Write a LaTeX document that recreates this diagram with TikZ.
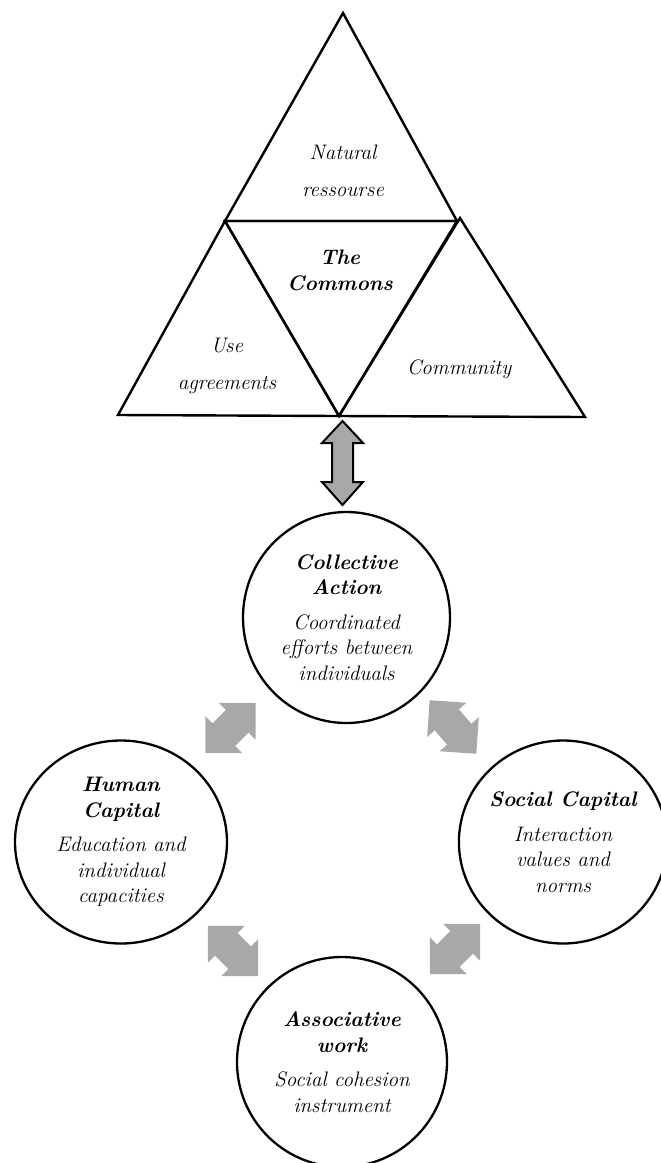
\documentclass[tikz,border=0pt]{standalone}
\usetikzlibrary{shapes.geometric,positioning}
\definecolor{arrowgray}{RGB}{168,168,168}

\begin{document}
\begin{tikzpicture}[x=1pt,y=-1pt,
  tri/.style={draw, line width=2.4pt, line join=miter},
  tritext/.style={align=center, font=\itshape\fontsize{21}{37}\selectfont},
  bubble/.style={ellipse, draw, line width=2.3pt, align=center, inner sep=0pt,
                 font=\itshape\fontsize{21}{25.5}\selectfont},
  garrow/.style={fill=arrowgray, draw=none}]
\useasboundingbox (0,0) rectangle (661,1163);

% triangles
\coordinate (apex) at (343,13);
\coordinate (midl) at (225,221);
\coordinate (midr) at (457,221);
\coordinate (ra) at (460,218);
\coordinate (bl) at (118,415);
\coordinate (bm) at (339,416);
\coordinate (br) at (585,417);

\draw [tri] (apex) -- (midr) -- (midl) -- cycle;
\draw [tri] (midl) -- (bm) -- (bl) -- cycle;
\draw [tri] (midl) -- (midr) -- (bm) -- cycle;
\draw [tri] (ra) -- (br) -- (bm) -- cycle;

\node [tritext] (nat) at (343,171) {Natural\\ressourse};
\node [tritext, font=\bfseries\itshape\fontsize{21}{26}\selectfont] (commons) at (340,270) {The\\Commons};
\node [tritext] (use) at (227,366) {Use\\agreements};
\node [tritext] (cmty) at (459,369) {Community};

% circles
\node [bubble, minimum width=207, minimum height=211] (coll) at (346.5,617.5)
  {{\bfseries Collective}\\{\bfseries Action}\\[9pt]Coordinated\\efforts between\\individuals};
\node [bubble, minimum width=212, minimum height=203] (human) at (121,842)
  {{\bfseries Human}\\{\bfseries Capital}\\[9pt]Education and\\individual\\capacities};
\node [bubble, minimum width=200, minimum height=203] (social) at (563,842)
  {{\bfseries Social Capital}\\[9pt]Interaction\\values and\\norms};
\node [bubble, minimum width=210, minimum height=210] (assoc) at (342,1062)
  {{\bfseries Associative}\\{\bfseries work}\\[9pt]Social cohesion\\instrument};

% link between the commons and collective action
\draw [fill=arrowgray, line width=2pt, line join=miter, shift={(342.5,0)}]
  (0,421) -- (20.5,443) -- (10.5,443) -- (10.5,482) -- (20.5,482) -- (0,505)
  -- (-20.5,482) -- (-10.5,482) -- (-10.5,443) -- (-20.5,443) -- cycle;

% gray double arrows between the circles
\foreach \x/\y/\a in {230.5/728/45, 453/727/-49, 233/951/-45, 455/949/45}
  \fill [garrow, shift={(\x,\y)}, rotate=\a]
    (35.5,0) -- (9.5,26) -- (9.5,16) -- (-9.5,16) -- (-9.5,26) -- (-35.5,0)
    -- (-9.5,-26) -- (-9.5,-16) -- (9.5,-16) -- (9.5,-26) -- cycle;
\end{tikzpicture}
\end{document}
